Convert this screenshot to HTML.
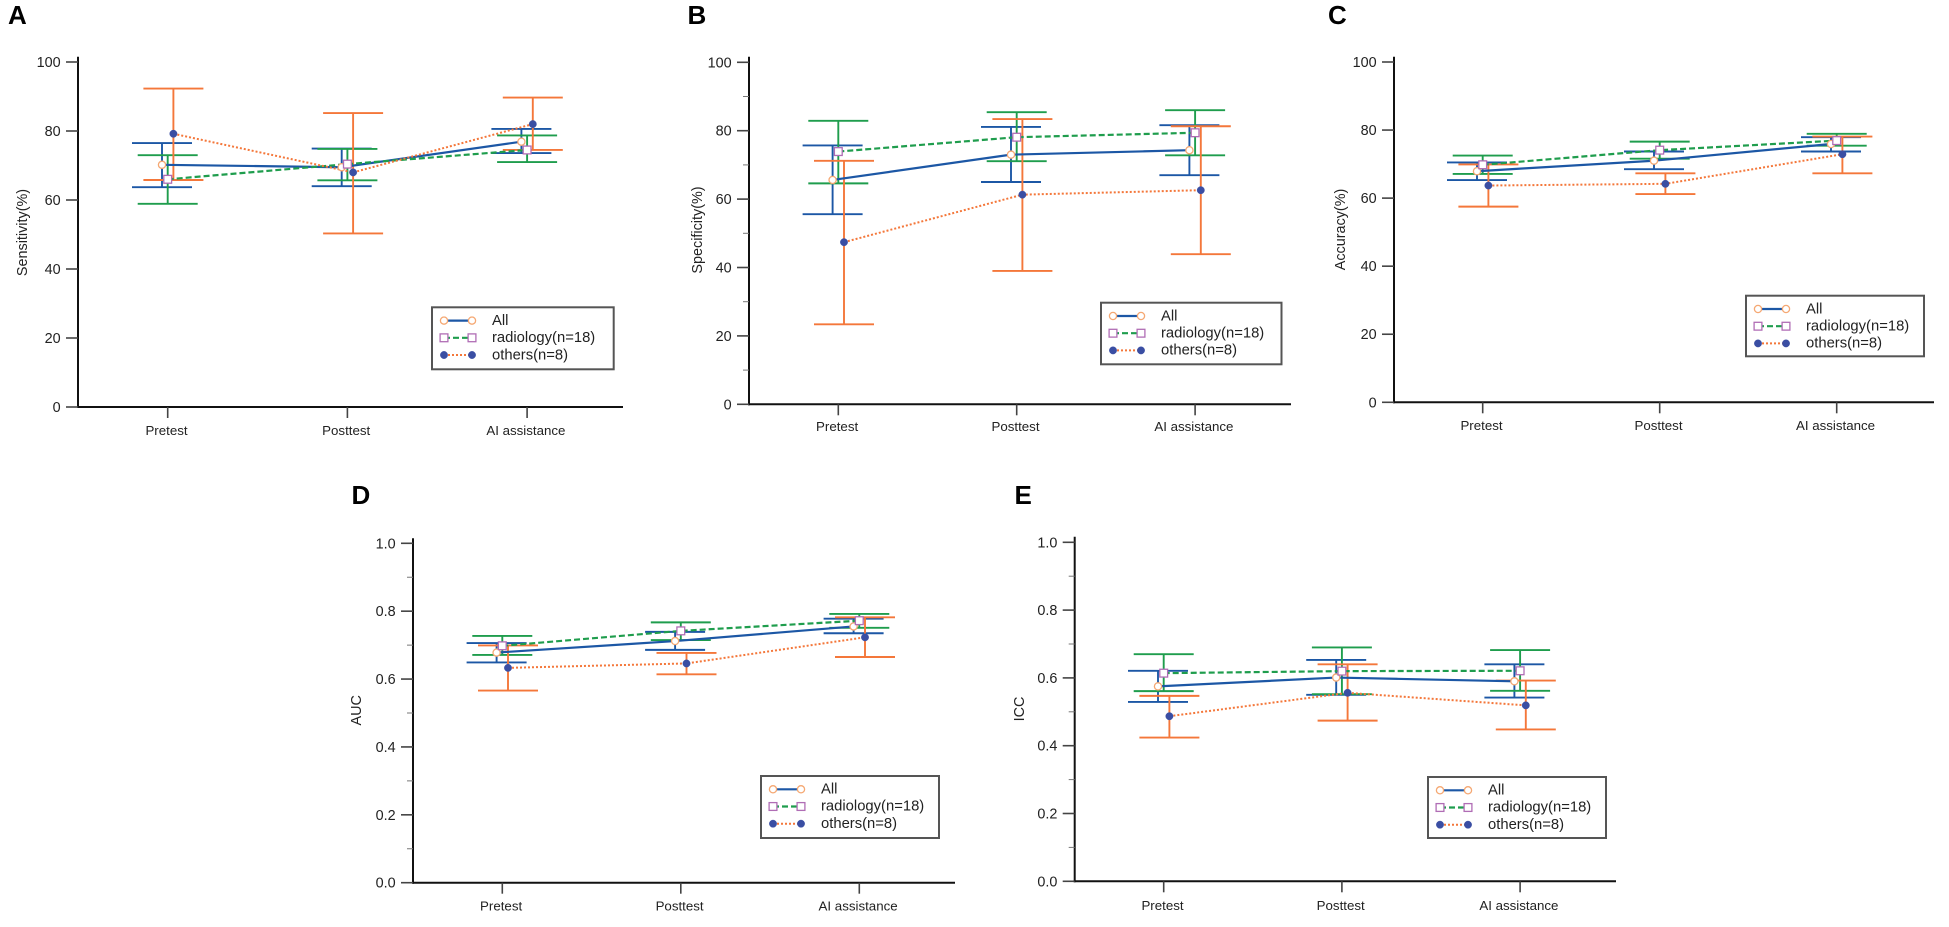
<!DOCTYPE html>
<html lang="en">
<head>
<meta charset="utf-8">
<title>Reader performance panels</title>
<style>
html,body{margin:0;padding:0;background:#fff;}
body{width:1949px;height:927px;overflow:hidden;}
svg{display:block;filter:blur(0.35px);}
text{font-family:"Liberation Sans",sans-serif;fill:#222;}
.letter{font-size:26px;font-weight:700;fill:#000;}
.title{font-size:14.4px;text-anchor:middle;}
.leg{font-size:14.8px;}
.box{fill:#fff;stroke:#555;stroke-width:2;}
</style>
</head>
<body>
<svg id="figure" width="1949" height="927" viewBox="0 0 1949 927" xmlns="http://www.w3.org/2000/svg">
  <rect width="1949" height="927" fill="#fff"/>

  <g id="panel-a">
    <text class="letter" x="8" y="24">A</text>
    <text class="title" transform="translate(27,232.5) rotate(-90)">Sensitivity(%)</text>
  </g>
  <g id="panel-b">
    <text class="letter" x="687.5" y="24">B</text>
    <text class="title" transform="translate(702,230) rotate(-90)">Specificity(%)</text>
  </g>
  <g id="panel-c">
    <text class="letter" x="1328" y="24">C</text>
    <text class="title" transform="translate(1345,229.5) rotate(-90)">Accuracy(%)</text>
  </g>
  <g id="panel-d">
    <text class="letter" x="351.5" y="504">D</text>
    <text class="title" transform="translate(361,710.3) rotate(-90)">AUC</text>
  </g>
  <g id="panel-e">
    <text class="letter" x="1014.5" y="504">E</text>
    <text class="title" transform="translate(1024,709) rotate(-90)">ICC</text>
  </g>

  <g id="legend-a" class="legend" transform="translate(432,307.3)">
    <rect class="box" width="181.7" height="62"/>
    <text class="leg" x="60" y="17.7">All</text>
    <text class="leg" x="60" y="34.7">radiology(n=18)</text>
    <text class="leg" x="60" y="52">others(n=8)</text>
  </g>
  <g id="legend-b" class="legend" transform="translate(1101,302.7)">
    <rect class="box" width="180.5" height="61.6"/>
    <text class="leg" x="60" y="17.7">All</text>
    <text class="leg" x="60" y="34.7">radiology(n=18)</text>
    <text class="leg" x="60" y="52">others(n=8)</text>
  </g>
  <g id="legend-c" class="legend" transform="translate(1746,295.7)">
    <rect class="box" width="178" height="60.6"/>
    <text class="leg" x="60" y="17.7">All</text>
    <text class="leg" x="60" y="34.7">radiology(n=18)</text>
    <text class="leg" x="60" y="52">others(n=8)</text>
  </g>
  <g id="legend-d" class="legend" transform="translate(761,776)">
    <rect class="box" width="178" height="62"/>
    <text class="leg" x="60" y="17.7">All</text>
    <text class="leg" x="60" y="34.7">radiology(n=18)</text>
    <text class="leg" x="60" y="52">others(n=8)</text>
  </g>
  <g id="legend-e" class="legend" transform="translate(1428,777)">
    <rect class="box" width="178" height="61"/>
    <text class="leg" x="60" y="17.7">All</text>
    <text class="leg" x="60" y="34.7">radiology(n=18)</text>
    <text class="leg" x="60" y="52">others(n=8)</text>
  </g>
</svg>

<script>
// ---- categories and tick labels ----
const categories = ['Pretest', 'Posttest', 'AI assistance'];
const percentTicks = [0, 20, 40, 60, 80, 100];
const ratioTicks = [0.0, 0.2, 0.4, 0.6, 0.8, 1.0];
const percentMinorTicks = [10, 30, 50, 70, 90];
const ratioMinorTicks = [0.1, 0.3, 0.5, 0.7, 0.9];

// ---- A: sensitivity ----
const sensAllMean = [70.2, 69.5, 76.9];
const sensAllUpper = [76.5, 74.9, 80.6];
const sensAllLower = [63.7, 64.0, 73.6];
const sensRadMean = [66.0, 70.4, 74.5];
const sensRadUpper = [73.0, 74.8, 78.7];
const sensRadLower = [58.9, 65.7, 71.0];
const sensOthMean = [79.2, 68.0, 82.0];
const sensOthUpper = [92.3, 85.2, 89.7];
const sensOthLower = [65.8, 50.3, 74.5];

// ---- B: specificity ----
const specAllMean = [65.6, 73.0, 74.3];
const specAllUpper = [75.7, 81.1, 81.6];
const specAllLower = [55.6, 65.0, 67.0];
const specRadMean = [73.9, 78.1, 79.4];
const specRadUpper = [82.9, 85.4, 86.0];
const specRadLower = [64.6, 71.1, 72.8];
const specOthMean = [47.4, 61.3, 62.6];
const specOthUpper = [71.2, 83.4, 81.3];
const specOthLower = [23.4, 39.0, 43.9];

// ---- C: accuracy ----
const accAllMean = [67.9, 71.0, 75.9];
const accAllUpper = [70.5, 73.7, 77.9];
const accAllLower = [65.3, 68.5, 73.7];
const accRadMean = [69.8, 74.1, 76.9];
const accRadUpper = [72.5, 76.6, 78.9];
const accRadLower = [67.1, 71.6, 75.4];
const accOthMean = [63.7, 64.2, 72.9];
const accOthUpper = [69.9, 67.3, 78.1];
const accOthLower = [57.5, 61.2, 67.3];

// ---- D: AUC ----
const aucAllMean = [0.678, 0.712, 0.755];
const aucAllUpper = [0.706, 0.739, 0.778];
const aucAllLower = [0.649, 0.686, 0.735];
const aucRadMean = [0.698, 0.742, 0.772];
const aucRadUpper = [0.727, 0.767, 0.792];
const aucRadLower = [0.671, 0.715, 0.751];
const aucOthMean = [0.633, 0.646, 0.723];
const aucOthUpper = [0.699, 0.677, 0.782];
const aucOthLower = [0.566, 0.614, 0.665];

// ---- E: ICC ----
const iccAllMean = [0.575, 0.601, 0.590];
const iccAllUpper = [0.621, 0.653, 0.640];
const iccAllLower = [0.529, 0.550, 0.542];
const iccRadMean = [0.614, 0.620, 0.621];
const iccRadUpper = [0.670, 0.690, 0.682];
const iccRadLower = [0.561, 0.552, 0.562];
const iccOthMean = [0.487, 0.556, 0.519];
const iccOthUpper = [0.547, 0.640, 0.592];
const iccOthLower = [0.424, 0.474, 0.448];

// ---- styles and layout (kept apart from the data) ----
const BLUE = '#1c57a5', GREEN = '#1f9d4d', ORANGE = '#f4773a';
const seriesStyles = [
  {key: 'all', color: BLUE, dash: '', width: 2.2, offset: -5.7},
  {key: 'radiology', color: GREEN, dash: '6 3', width: 2.2, offset: 0},
  {key: 'others', color: ORANGE, dash: '2 2', width: 2, offset: 5.7}
];
const panels = [
  {id: 'panel-a', x0: 78, xEnd: 623, yTop: 56.7, y0: 407, yMax: 62, first: 167.7, step: 179.7, max: 100,
   ticks: percentTicks, minor: [], dec: 0, lab: 28,
   series: [[sensAllMean, sensAllUpper, sensAllLower], [sensRadMean, sensRadUpper, sensRadLower], [sensOthMean, sensOthUpper, sensOthLower]]},
  {id: 'panel-b', x0: 749, xEnd: 1291, yTop: 56.7, y0: 404.3, yMax: 62.3, first: 838.3, step: 178.4, max: 100,
   ticks: percentTicks, minor: percentMinorTicks, dec: 0, lab: 26.5,
   series: [[specAllMean, specAllUpper, specAllLower], [specRadMean, specRadUpper, specRadLower], [specOthMean, specOthUpper, specOthLower]]},
  {id: 'panel-c', x0: 1394, xEnd: 1934, yTop: 56.7, y0: 402.3, yMax: 62, first: 1482.7, step: 177, max: 100,
   ticks: percentTicks, minor: [], dec: 0, lab: 27.5,
   series: [[accAllMean, accAllUpper, accAllLower], [accRadMean, accRadUpper, accRadLower], [accOthMean, accOthUpper, accOthLower]]},
  {id: 'panel-d', x0: 413, xEnd: 955, yTop: 538.3, y0: 882.7, yMax: 543.3, first: 502.3, step: 178.5, max: 1,
   ticks: ratioTicks, minor: ratioMinorTicks, dec: 1, lab: 28,
   series: [[aucAllMean, aucAllUpper, aucAllLower], [aucRadMean, aucRadUpper, aucRadLower], [aucOthMean, aucOthUpper, aucOthLower]]},
  {id: 'panel-e', x0: 1074.7, xEnd: 1616, yTop: 536.7, y0: 881.3, yMax: 542.3, first: 1163.7, step: 178.2, max: 1,
   ticks: ratioTicks, minor: ratioMinorTicks, dec: 1, lab: 28.7,
   series: [[iccAllMean, iccAllUpper, iccAllLower], [iccRadMean, iccRadUpper, iccRadLower], [iccOthMean, iccOthUpper, iccOthLower]]}
];

const NS = 'http://www.w3.org/2000/svg';
function make(parent, tag, attrs) {
  const el = document.createElementNS(NS, tag);
  for (const k in attrs) el.setAttribute(k, attrs[k]);
  parent.appendChild(el);
  return el;
}

function drawMarker(parent, kind, x, y) {
  let el;
  if (kind === 'all') {
    el = make(parent, 'circle', {cx: x, cy: y, r: 3.6, fill: '#fff', stroke: '#f5a873', 'stroke-width': 1.3});
    
    
  } else if (kind === 'radiology') {
    el = make(parent, 'rect', {x: x - 3.9, y: y - 3.9, width: 7.8, height: 7.8, fill: '#fff', stroke: '#b06db5', 'stroke-width': 1.3});
    
    
  } else {
    el = make(parent, 'circle', {cx: x, cy: y, r: 3.7, fill: '#3a4ea3', stroke: '#3a4ea3', 'stroke-width': 0.4});
    
    
  }
}

function drawPanel(p) {
  const g = document.getElementById(p.id);
  const yScale = v => p.y0 - (v / p.max) * (p.y0 - p.yMax);
  const xScale = i => p.first + i * p.step;

  // axes
  const yAxis = make(g, 'line', {x1: p.x0, x2: p.x0, y1: p.yTop, y2: p.y0 + 1, stroke: '#111', 'stroke-width': 2});
  
  
  const xAxis = make(g, 'line', {x1: p.x0 - 1, x2: p.xEnd, y1: p.y0, y2: p.y0, stroke: '#111', 'stroke-width': 2});
  
  

  p.ticks.forEach(v => {
    const y = yScale(v);
    const tick = make(g, 'line', {x1: p.x0 - 12, x2: p.x0, y1: y, y2: y, stroke: '#444', 'stroke-width': 1.6});
    
    
    const label = make(g, 'text', {x: p.x0 - 17.3, y: y + 5, 'text-anchor': 'end', 'font-size': 14.4});
    
    
    label.textContent = v.toFixed(p.dec);
  });
  p.minor.forEach(v => {
    const y = yScale(v);
    const tick = make(g, 'line', {x1: p.x0 - 6, x2: p.x0, y1: y, y2: y, stroke: '#777', 'stroke-width': 1});
    
    
  });
  categories.forEach((c, i) => {
    const x = xScale(i);
    const tick = make(g, 'line', {x1: x, x2: x, y1: p.y0, y2: p.y0 + 11, stroke: '#444', 'stroke-width': 1.6});
    
    
    const label = make(g, 'text', {x: x - 1.2, y: p.y0 + p.lab, 'text-anchor': 'middle', 'font-size': 13.3});
    
    
    label.textContent = c;
  });

  // error bars
  p.series.forEach((s, si) => {
    const st = seriesStyles[si];
    categories.forEach((c, i) => {
      const x = xScale(i) + st.offset;
      const up = yScale(s[1][i]), lo = yScale(s[2][i]);
      const stem = make(g, 'line', {x1: x, x2: x, y1: up, y2: lo, stroke: st.color, 'stroke-width': 1.9});
      
      
      const capTop = make(g, 'line', {x1: x - 30, x2: x + 30, y1: up, y2: up, stroke: st.color, 'stroke-width': 1.9});
      
      
      const capBot = make(g, 'line', {x1: x - 30, x2: x + 30, y1: lo, y2: lo, stroke: st.color, 'stroke-width': 1.9});
      
      
    });
  });

  // series lines
  p.series.forEach((s, si) => {
    const st = seriesStyles[si];
    const pts = s[0].map((v, i) => (xScale(i) + st.offset) + ',' + yScale(v)).join(' ');
    const line = make(g, 'polyline', {points: pts, fill: 'none', stroke: st.color, 'stroke-width': st.width, 'stroke-dasharray': st.dash});
    
    
  });

  // markers
  p.series.forEach((s, si) => {
    const st = seriesStyles[si];
    s[0].forEach((v, i) => drawMarker(g, st.key, xScale(i) + st.offset, yScale(v)));
  });
}
panels.forEach(drawPanel);

// legend symbols
document.querySelectorAll('.legend').forEach(leg => {
  seriesStyles.forEach((st, i) => {
    const y = 13.3 + i * 17.2;
    const sample = make(leg, 'line', {x1: 12, x2: 40, y1: y, y2: y, stroke: st.color, 'stroke-width': st.width, 'stroke-dasharray': st.dash});
    
    
    drawMarker(leg, st.key, 12, y);
    drawMarker(leg, st.key, 40, y);
  });
});
</script>
</body>
</html>
